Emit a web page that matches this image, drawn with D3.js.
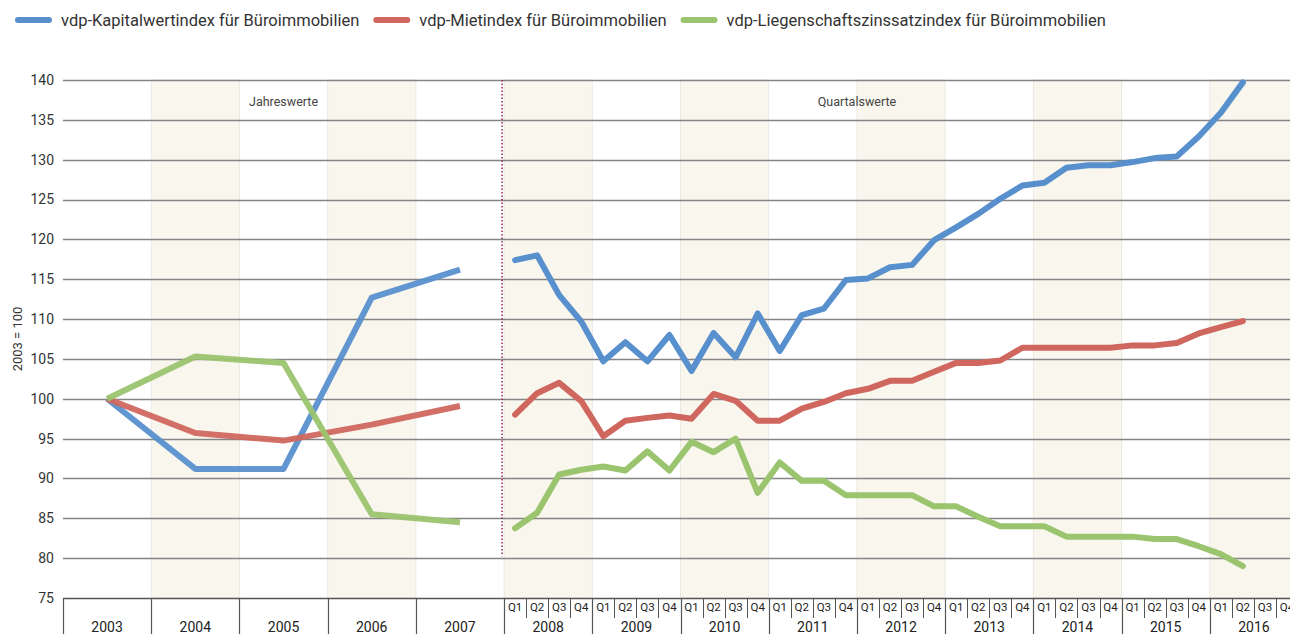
<!DOCTYPE html>
<html>
<head>
<meta charset="utf-8">
<script src="https://cdn.jsdelivr.net/npm/d3@7"></script>
<style>
  body { margin: 0; background: #fff; }
  svg { display: block; font-family: Roboto, "DejaVu Sans", sans-serif; }
</style>
</head>
<body>
<svg id="chart" width="1290" height="634"></svg>
<script>
// Kategorien
const years = ["2003", "2004", "2005", "2006", "2007", "2008", "2009", "2010", "2011", "2012", "2013", "2014", "2015", "2016"]
const annualYears = ["2003", "2004", "2005", "2006", "2007"]
const quarters = ["Q1", "Q2", "Q3", "Q4"]
const yTicks = [75, 80, 85, 90, 95, 100, 105, 110, 115, 120, 125, 130, 135, 140]

// Jahreswerte 2003-2007
const kapitalJahr = [100, 91.2, 91.2, 112.7, 116.2]
const mieteJahr = [100, 95.7, 94.75, 96.75, 99.1]
const zinsJahr = [100, 105.3, 104.5, 85.5, 84.5]

// Quartalswerte 2008 Q1 - 2016 Q2
const kapitalQuartal = [117.4, 118.0, 113.0, 109.7, 104.7, 107.1, 104.7, 108.0, 103.5, 108.25, 105.2, 110.7,
    106.0, 110.5, 111.3, 114.9, 115.1, 116.5, 116.8, 119.9, 121.5, 123.2, 125.1, 126.75,
    127.1, 129.0, 129.3, 129.3, 129.7, 130.2, 130.4, 132.9, 135.9, 139.7]
const mieteQuartal = [98.0, 100.7, 102.0, 99.7, 95.3, 97.25, 97.6, 97.9, 97.5, 100.6, 99.75, 97.25,
    97.25, 98.75, 99.6, 100.7, 101.25, 102.25, 102.25, 103.4, 104.5, 104.5, 104.8, 106.4,
    106.4, 106.4, 106.4, 106.4, 106.7, 106.7, 107.0, 108.2, 109.0, 109.75]
const zinsQuartal = [83.75, 85.7, 90.5, 91.1, 91.5, 91.0, 93.4, 91.0, 94.6, 93.3, 95.0, 88.2,
    92.0, 89.7, 89.7, 87.9, 87.9, 87.9, 87.9, 86.5, 86.5, 85.2, 84.0, 84.0,
    84.0, 82.7, 82.7, 82.7, 82.7, 82.4, 82.4, 81.5, 80.5, 79.0]

const seriesNames = ["vdp-Kapitalwertindex für Büroimmobilien", "vdp-Mietindex für Büroimmobilien", "vdp-Liegenschaftszinssatzindex für Büroimmobilien"]
const colors = ["#5890cd", "#d0675f", "#9bc46e"]

const margin = { top: 80, left: 63, bottom: 598, right: 1298 }

const svg = d3.select("#chart")

const x = d3.scaleBand().domain(years).range([margin.left, margin.right])
const q = d3.scaleBand().domain(quarters).range([0, x.bandwidth()])
const y = d3.scaleLinear().domain([75, 140]).range([margin.bottom, margin.top])

// quarterly periods in order, starting 2008 Q1
const periods = kapitalQuartal.map((_, i) => ({ year: years[5 + Math.floor(i / 4)], q: quarters[i % 4] }))
const xAnnual = yr => x(yr) + x.bandwidth() / 2
const xQuarter = p => x(p.year) + q(p.q) + q.bandwidth() / 2

// shaded year bands
svg.append("g")
    .selectAll("rect")
    .data(years.filter((d, i) => i % 2 === 1))
    .join("rect")
    .attr("x", d => x(d))
    .attr("y", margin.top)
    .attr("width", x.bandwidth())
    .attr("height", margin.bottom - margin.top)
    .attr("fill", "#f9f6ee")
    .attr("stroke", "#ebe9e4")
    .attr("stroke-width", 1)

// gridlines
svg.append("g")
    .selectAll("line")
    .data(yTicks)
    .join("line")
    .attr("x1", margin.left)
    .attr("x2", margin.right)
    .attr("y1", d => Math.round(y(d)) + 0.5)
    .attr("y2", d => Math.round(y(d)) + 0.5)
    .attr("stroke", d => d === 75 ? "#555" : "#858585")
    .attr("stroke-width", 1.5)

// y tick labels
svg.append("g")
    .attr("font-size", 14)
    .attr("fill", "#333")
    .attr("text-anchor", "end")
    .selectAll("text")
    .data(yTicks)
    .join("text")
    .attr("x", 54)
    .attr("y", d => y(d))
    .attr("dy", "0.35em")
    .text(d => d)

svg.append("text")
    .attr("transform", `translate(17,${y(107.5)}) rotate(-90)`)
    .attr("text-anchor", "middle")
    .attr("dy", "0.35em")
    .attr("font-size", 13)
    .attr("fill", "#333")
    .text("2003 = 100")

// separator between yearly and quarterly values
svg.append("line")
    .attr("x1", x("2008") - 2)
    .attr("x2", x("2008") - 2)
    .attr("y1", y(140))
    .attr("y2", y(80) - 2)
    .attr("stroke", "#a3244a")
    .attr("stroke-width", 1.5)
    .attr("stroke-dasharray", "1.5,2")

svg.append("g")
    .attr("font-size", 12.5)
    .attr("fill", "#444")
    .attr("text-anchor", "middle")
    .selectAll("text")
    .data([["Jahreswerte", xAnnual("2005")], ["Quartalswerte", x("2012")]])
    .join("text")
    .attr("x", d => d[1])
    .attr("y", 102)
    .attr("dy", "0.35em")
    .text(d => d[0])

// bottom category axis
const axis = svg.append("g")
axis.selectAll("line.year")
    .data(years)
    .join("line")
    .attr("class", "year")
    .attr("x1", d => Math.round(x(d)) + 0.5)
    .attr("x2", d => Math.round(x(d)) + 0.5)
    .attr("y1", margin.bottom)
    .attr("y2", 634)
    .attr("stroke", "#555")
    .attr("stroke-width", 1.2)

axis.selectAll("text.year")
    .data(years)
    .join("text")
    .attr("class", "year")
    .attr("x", d => xAnnual(d))
    .attr("y", 627)
    .attr("dy", "0.35em")
    .attr("text-anchor", "middle")
    .attr("font-size", 14)
    .attr("fill", "#222")
    .text(d => d)

const qTicks = years.slice(5).flatMap(yr => quarters.map(qq => ({ year: yr, q: qq })))
axis.selectAll("line.q")
    .data(qTicks.filter(d => d.q !== "Q1"))
    .join("line")
    .attr("class", "q")
    .attr("x1", d => Math.round(x(d.year) + q(d.q)) + 0.5)
    .attr("x2", d => Math.round(x(d.year) + q(d.q)) + 0.5)
    .attr("y1", margin.bottom)
    .attr("y2", 618)
    .attr("stroke", "#555")
    .attr("stroke-width", 1)

axis.selectAll("text.q")
    .data(qTicks)
    .join("text")
    .attr("class", "q")
    .attr("x", d => xQuarter(d))
    .attr("y", 607)
    .attr("dy", "0.35em")
    .attr("text-anchor", "middle")
    .attr("font-size", 11.5)
    .attr("fill", "#222")
    .text(d => d.q)

// lines
const line = d3.line().x(d => d[0]).y(d => y(d[1]))
const annual = [kapitalJahr, mieteJahr, zinsJahr]
const quarterly = [kapitalQuartal, mieteQuartal, zinsQuartal]

svg.append("g")
    .attr("fill", "none")
    .attr("stroke-width", 6)
    .attr("stroke-linejoin", "round")
    .attr("stroke-opacity", 0.95)
    .selectAll("path")
    .data(annual)
    .join("path")
    .attr("stroke", (d, i) => colors[i])
    .attr("d", d => line(d.map((v, i) => [xAnnual(annualYears[i]), v])))

svg.append("g")
    .attr("fill", "none")
    .attr("stroke-width", 6)
    .attr("stroke-linejoin", "round")
    .attr("stroke-linecap", "round")
    .selectAll("path")
    .data(quarterly)
    .join("path")
    .attr("stroke", (d, i) => colors[i])
    .attr("d", d => line(d.map((v, i) => [xQuarter(periods[i]), v])))

// legend
const legend = svg.append("g").attr("font-size", 16.5).attr("fill", "#333")
let lx = 15
seriesNames.forEach((name, i) => {
    legend.append("line")
        .attr("x1", lx + 3).attr("x2", lx + 34)
        .attr("y1", 20).attr("y2", 20)
        .attr("stroke", colors[i])
        .attr("stroke-width", 6)
        .attr("stroke-linecap", "round")
    const t = legend.append("text")
        .attr("x", lx + 46)
        .attr("y", 20)
        .attr("dy", "0.35em")
        .text(name)
    lx += 46 + t.node().getComputedTextLength() + 14
})
</script>
</body>
</html>
